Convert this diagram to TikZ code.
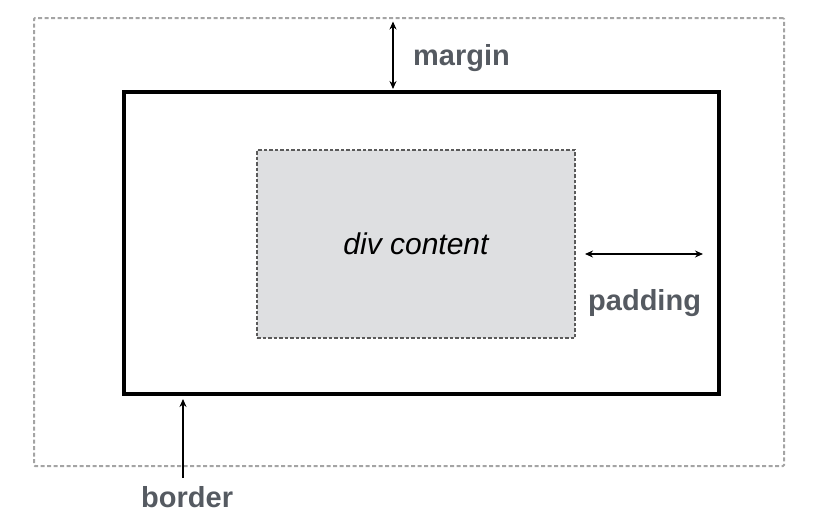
\documentclass[tikz,border=0pt]{standalone}
\usepackage{fontspec}
\setmainfont{Liberation Sans}
\usetikzlibrary{arrows.meta,positioning}

\definecolor{labelgray}{HTML}{555A61}
\definecolor{contentfill}{HTML}{DEDFE1}
\definecolor{marginline}{HTML}{A4A4A4}
\definecolor{contentline}{HTML}{5A5A5A}

\begin{document}
\begin{tikzpicture}[x=1pt,y=-1pt,>={Stealth[length=8pt,width=7pt]},
    box/.style={rectangle,inner sep=0pt,outer sep=0pt},
    marginbox/.style={box,draw=marginline,line width=2pt,dash pattern=on 4pt off 2.5pt,rounded corners=1pt},
    borderbox/.style={box,draw=black,line width=4.5pt},
    contentbox/.style={box,draw=contentline,fill=contentfill,line width=1.2pt,dash pattern=on 3.5pt off 2pt,
        font=\fontsize{30}{32}\selectfont\itshape},
    lbl/.style={inner sep=0pt,anchor=base west,text=labelgray,font=\fontsize{29}{31}\selectfont\bfseries},
    dim/.style={line width=1.5pt}]

    \useasboundingbox (0,0) rectangle (830,515);

    % the three boxes
    \node[marginbox,minimum width=750pt,minimum height=448pt] (margin) at (409,242) {};
    \node[borderbox,minimum width=595pt,minimum height=302pt] (border) at (421.5,243) {};
    \node[contentbox,minimum width=318pt,minimum height=188pt] (content) at (416,244) {div content};

    % where the arrows run
    \coordinate (marginarrow) at (393,0);
    \coordinate (paddingarrow) at (0,254);
    \coordinate (borderfoot) at (183,478);

    \draw[dim,<->,shorten <=3.5pt,shorten >=3pt] (margin.north -| marginarrow) -- (border.north -| marginarrow);
    \draw[dim,<->,shorten <=10pt,shorten >=16pt] (content.east |- paddingarrow) -- (border.east |- paddingarrow);
    \draw[dim,->,shorten >=5pt] (borderfoot) -- (borderfoot |- border.south);

    % labels
    \node[lbl] (marginlabel) at (413,65) {margin};
    \node[lbl] (paddinglabel) at (588,310) {padding};
    \node[lbl] (borderlabel) at (141,507) {border};

\end{tikzpicture}
\end{document}
